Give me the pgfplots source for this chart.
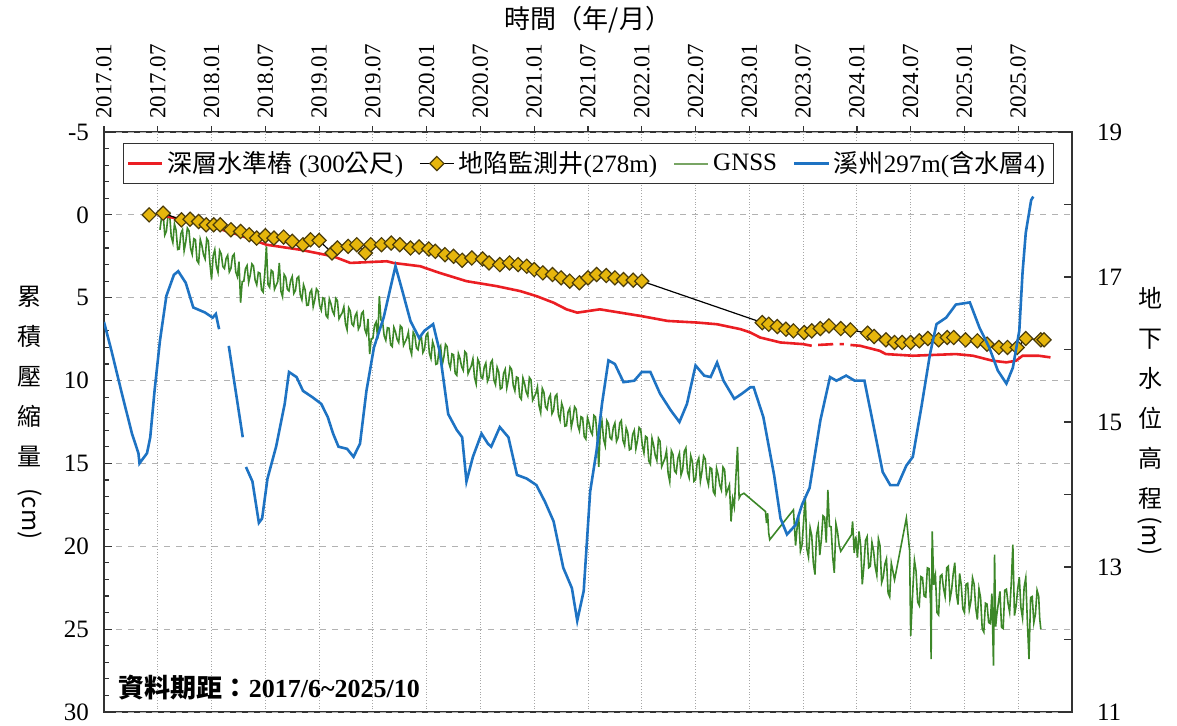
\documentclass[border=0pt]{standalone}
\usepackage{pgfplots}
\pgfplotsset{compat=1.18}
\usepackage{fontspec}
\usepackage{graphicx}
\setmainfont{Liberation Serif}
\newfontfamily\cjk{Noto Sans CJK TC}

\definecolor{levelred}{RGB}{235,30,35}
\definecolor{wellgold}{RGB}{230,182,12}
\definecolor{welledge}{RGB}{75,60,10}
\definecolor{gnssgreen}{RGB}{60,135,40}
\definecolor{gnsslegend}{RGB}{120,165,100}
\definecolor{wellblue}{RGB}{30,115,195}
\definecolor{framegray}{RGB}{50,50,50}

\newcommand\tk{\fontsize{12.5}{14}\selectfont}

\begin{document}
\begin{tikzpicture}

% frame, top date axis and vertical grid
\begin{axis}[
    name=frame, at={(0,0)}, anchor=south west,
    width=484pt, height=290pt, scale only axis,
    xmin=2017, xmax=2026, ymin=0, ymax=1,
    xtick={2017,2017.5,2018,2018.5,2019,2019.5,2020,2020.5,2021,2021.5,2022,2022.5,2023,2023.5,2024,2024.5,2025,2025.5},
    xticklabels={2017.01,2017.07,2018.01,2018.07,2019.01,2019.07,2020.01,2020.07,2021.01,2021.07,2022.01,2022.07,2023.01,2023.07,2024.01,2024.07,2025.01,2025.07},
    xtick pos=right, xticklabel pos=right,
    ytick=\empty,
    tick align=outside, major tick length=3pt,
    xticklabel style={rotate=90, anchor=west, font=\fontsize{11.5}{12}\selectfont},
    xmajorgrids, x grid style={densely dotted, gray!70, line width=0.5pt},
    axis line style={line width=1pt, framegray},
    xtick style={framegray, line width=0.6pt},
]
\end{axis}

% left axis: compression (cm)
\begin{axis}[
    at={(0,0)}, anchor=south west,
    width=484pt, height=290pt, scale only axis,
    xmin=2017, xmax=2026, ymin=-5, ymax=30, y dir=reverse,
    hide x axis, axis y line*=left,
    ytick={-5,0,5,10,15,20,25,30}, minor y tick num=4,
    tick align=inside, major tick length=4pt, minor tick length=2.5pt,
    ymajorgrids, y grid style={dashed, gray!60, line width=0.5pt},
    axis line style={line width=1pt, framegray},
    ytick style={framegray, line width=0.6pt},
    yticklabel style={font=\tk, xshift=-4pt},
    /pgf/number format/assume math mode=true,
    unbounded coords=jump,
]
% GNSS
\addplot[gnssgreen, line width=0.8pt] coordinates {
(2017.52,0.90) (2017.535,0.17) (2017.55,-0.06) (2017.565,1.22) (2017.58,0.99) (2017.595,0.06) (2017.61,-0.07) (2017.625,1.30)
(2017.64,1.67) (2017.655,0.55) (2017.67,0.92) (2017.685,2.09) (2017.70,2.06) (2017.715,1.13) (2017.73,0.90) (2017.745,2.17)
(2017.76,1.64) (2017.775,0.80) (2017.79,0.96) (2017.805,2.02) (2017.82,2.38) (2017.835,1.44) (2017.85,1.50) (2017.865,2.76)
(2017.88,2.92) (2017.895,1.48) (2017.91,1.84) (2017.925,2.40) (2017.94,2.66) (2017.955,1.42) (2017.97,1.58) (2017.985,2.94)
(2018.00,3.90) (2018.015,2.46) (2018.03,2.10) (2018.045,3.11) (2018.06,3.47) (2018.075,2.15) (2018.09,2.35) (2018.105,3.12)
(2018.12,3.24) (2018.135,2.64) (2018.15,2.44) (2018.165,3.44) (2018.18,3.24) (2018.195,2.49) (2018.21,2.37) (2018.225,3.45)
(2018.24,3.73) (2018.255,2.82) (2018.27,5.30) (2018.285,4.03) (2018.30,4.00) (2018.315,3.25) (2018.33,3.06) (2018.345,4.07)
(2018.36,3.63) (2018.375,2.96) (2018.39,3.09) (2018.405,3.94) (2018.42,4.22) (2018.435,3.47) (2018.45,3.52) (2018.465,4.53)
(2018.48,4.66) (2018.495,3.50) (2018.51,1.90) (2018.525,4.20) (2018.54,4.37) (2018.555,3.34) (2018.57,3.43) (2018.585,4.49)
(2018.60,4.26) (2018.615,4.03) (2018.63,2.90) (2018.645,4.61) (2018.66,4.94) (2018.675,3.60) (2018.69,3.77) (2018.705,4.50)
(2018.72,4.59) (2018.735,3.96) (2018.75,3.72) (2018.765,4.74) (2018.78,4.56) (2018.795,3.82) (2018.81,3.72) (2018.825,4.82)
(2018.84,5.12) (2018.855,4.22) (2018.87,4.52) (2018.885,5.46) (2018.90,5.44) (2018.915,4.70) (2018.93,4.52) (2018.945,5.54)
(2018.96,5.12) (2018.975,4.46) (2018.99,4.60) (2019.005,5.46) (2019.02,5.75) (2019.035,5.01) (2019.05,5.06) (2019.065,6.08)
(2019.08,6.21) (2019.095,5.07) (2019.11,5.36) (2019.125,5.81) (2019.14,6.02) (2019.155,5.04) (2019.17,5.17) (2019.185,6.27)
(2019.20,6.08) (2019.215,5.90) (2019.23,5.55) (2019.245,6.56) (2019.26,6.93) (2019.275,5.61) (2019.29,5.81) (2019.305,6.58)
(2019.32,6.70) (2019.335,6.10) (2019.35,5.90) (2019.365,6.90) (2019.38,6.70) (2019.395,5.95) (2019.41,5.83) (2019.425,6.91)
(2019.44,7.19) (2019.455,6.28) (2019.47,8.40) (2019.485,7.48) (2019.50,7.44) (2019.515,6.68) (2019.53,6.47) (2019.545,7.47)
(2019.56,4.90) (2019.575,6.34) (2019.59,6.46) (2019.605,7.30) (2019.62,7.57) (2019.635,6.81) (2019.65,6.84) (2019.665,7.84)
(2019.68,7.95) (2019.695,6.79) (2019.71,7.06) (2019.725,7.50) (2019.74,7.70) (2019.755,6.69) (2019.77,6.80) (2019.785,7.87)
(2019.80,7.66) (2019.815,7.45) (2019.83,7.08) (2019.845,8.07) (2019.86,8.42) (2019.875,7.09) (2019.89,7.28) (2019.905,8.03)
(2019.92,8.14) (2019.935,7.53) (2019.95,7.32) (2019.965,8.31) (2019.98,8.10) (2019.995,7.27) (2020.01,7.13) (2020.025,8.35)
(2020.04,8.67) (2020.055,7.65) (2020.07,7.97) (2020.085,9.02) (2020.10,8.98) (2020.115,8.14) (2020.13,7.92) (2020.145,9.06)
(2020.16,8.57) (2020.175,7.81) (2020.19,7.95) (2020.205,8.91) (2020.22,9.23) (2020.235,8.39) (2020.25,8.44) (2020.265,9.56)
(2020.28,9.68) (2020.295,8.37) (2020.31,8.67) (2020.325,9.16) (2020.34,9.38) (2020.355,8.25) (2020.37,8.37) (2020.385,9.58)
(2020.40,9.34) (2020.415,9.11) (2020.43,8.69) (2020.445,9.81) (2020.46,10.20) (2020.475,8.71) (2020.49,8.93) (2020.505,9.77)
(2020.52,9.88) (2020.535,9.19) (2020.55,8.94) (2020.565,10.05) (2020.58,9.80) (2020.595,8.93) (2020.61,8.77) (2020.625,9.96)
(2020.64,10.25) (2020.655,9.20) (2020.67,9.49) (2020.685,10.51) (2020.70,10.44) (2020.715,9.57) (2020.73,9.32) (2020.745,10.44)
(2020.76,9.93) (2020.775,9.18) (2020.79,9.33) (2020.805,10.29) (2020.82,10.62) (2020.835,9.78) (2020.85,9.84) (2020.865,10.98)
(2020.88,11.13) (2020.895,9.84) (2020.91,10.17) (2020.925,10.68) (2020.94,10.92) (2020.955,9.81) (2020.97,9.96) (2020.985,11.19)
(2021.00,10.98) (2021.015,10.77) (2021.03,10.38) (2021.045,11.52) (2021.06,11.94) (2021.075,10.47) (2021.09,10.71) (2021.105,11.58)
(2021.12,11.73) (2021.135,11.07) (2021.15,10.86) (2021.165,12.00) (2021.18,11.79) (2021.195,10.95) (2021.21,10.83) (2021.225,12.06)
(2021.24,12.39) (2021.255,11.37) (2021.27,11.70) (2021.285,12.75) (2021.30,12.72) (2021.315,11.88) (2021.33,11.67) (2021.345,12.81)
(2021.36,12.33) (2021.375,11.58) (2021.39,11.73) (2021.405,12.69) (2021.42,13.02) (2021.435,12.18) (2021.45,12.24) (2021.465,13.38)
(2021.48,13.53) (2021.495,12.24) (2021.51,12.57) (2021.525,13.05) (2021.54,13.25) (2021.555,12.10) (2021.57,12.20) (2021.585,13.39)
(2021.60,15.20) (2021.615,12.89) (2021.63,12.45) (2021.645,13.55) (2021.66,13.93) (2021.675,12.42) (2021.69,12.61) (2021.705,13.44)
(2021.72,13.55) (2021.735,12.83) (2021.75,12.56) (2021.765,13.67) (2021.78,13.43) (2021.795,12.56) (2021.81,12.41) (2021.825,13.61)
(2021.84,13.91) (2021.855,12.86) (2021.87,13.16) (2021.885,14.18) (2021.90,14.12) (2021.915,13.25) (2021.93,13.01) (2021.945,14.12)
(2021.96,13.61) (2021.975,12.83) (2021.99,12.95) (2022.005,13.92) (2022.02,14.37) (2022.035,13.36) (2022.05,13.44) (2022.065,14.85)
(2022.08,15.04) (2022.095,13.48) (2022.11,13.89) (2022.125,14.52) (2022.14,14.82) (2022.155,13.48) (2022.17,13.67) (2022.185,15.19)
(2022.20,14.94) (2022.215,14.70) (2022.23,14.23) (2022.245,15.61) (2022.26,16.10) (2022.275,14.23) (2022.29,14.46) (2022.305,15.46)
(2022.32,15.58) (2022.335,14.70) (2022.35,14.38) (2022.365,15.70) (2022.38,15.38) (2022.395,14.28) (2022.41,14.07) (2022.425,15.51)
(2022.44,15.85) (2022.455,14.53) (2022.47,14.87) (2022.485,16.08) (2022.50,15.98) (2022.515,14.94) (2022.53,14.68) (2022.545,16.07)
(2022.56,15.47) (2022.575,14.55) (2022.59,14.73) (2022.605,15.89) (2022.62,16.29) (2022.635,15.25) (2022.65,15.32) (2022.665,16.70)
(2022.68,16.88) (2022.695,15.29) (2022.71,15.69) (2022.725,16.31) (2022.74,16.60) (2022.755,15.22) (2022.77,15.38) (2022.785,16.85)
(2022.80,16.57) (2022.815,16.29) (2022.83,18.50) (2022.845,17.14) (2022.86,17.62) (2022.875,15.79) (2022.89,14.00) (2022.905,17.09)
(2022.92,16.90) (2022.95,16.80)
(2023.15,17.90) (2023.16,18.60) (2023.17,18.00) (2023.18,19.20) (2023.19,19.60) (2023.41,17.80)
(2023.43,19.95) (2023.445,18.80) (2023.46,18.40) (2023.475,20.28) (2023.49,19.90) (2023.505,18.45) (2023.52,17.00) (2023.535,20.17)
(2023.55,20.65) (2023.565,18.88) (2023.58,19.36) (2023.595,21.01) (2023.61,21.70) (2023.625,19.30) (2023.64,18.79) (2023.655,20.53)
(2023.67,19.57) (2023.685,18.16) (2023.70,18.25) (2023.715,19.78) (2023.73,16.60) (2023.745,18.79) (2023.76,18.82) (2023.775,20.65)
(2023.79,21.60) (2023.805,18.63) (2023.82,19.13) (2023.835,19.94) (2023.85,20.30)
(2023.95,19.30) (2023.96,18.50) (2023.975,20.40) (2023.99,19.40) (2024.005,20.68) (2024.02,19.10) (2024.035,19.95) (2024.05,22.30)
(2024.065,21.20) (2024.08,19.65) (2024.095,19.42) (2024.11,21.29) (2024.125,21.20) (2024.14,19.76) (2024.155,20.27) (2024.17,21.23)
(2024.185,21.74) (2024.20,19.55) (2024.215,19.97) (2024.23,22.19) (2024.245,21.86) (2024.26,21.08) (2024.275,20.75) (2024.29,22.82)
(2024.305,23.05) (2024.32,21.02) (2024.335,21.52) (2024.35,22.02)
(2024.46,18.30) (2024.49,20.25) (2024.50,25.40) (2024.52,22.60) (2024.535,20.85) (2024.55,21.50) (2024.565,23.36) (2024.58,23.57)
(2024.595,21.83) (2024.61,21.89) (2024.625,23.00) (2024.64,23.06) (2024.655,21.30) (2024.67,21.34) (2024.685,23.47) (2024.69,26.80)
(2024.70,19.10) (2024.715,22.33) (2024.73,21.76) (2024.745,24.00) (2024.76,24.14) (2024.775,21.80) (2024.79,21.71) (2024.805,22.52)
(2024.82,23.03) (2024.835,21.29) (2024.85,21.20) (2024.865,23.21) (2024.88,22.67) (2024.895,21.68) (2024.91,20.99) (2024.925,22.85)
(2024.94,23.51) (2024.955,21.64) (2024.97,22.32) (2024.985,23.76) (2025.00,24.00) (2025.015,22.29) (2025.03,22.23) (2025.045,23.82)
(2025.06,23.31) (2025.075,21.90) (2025.09,22.29) (2025.105,23.73) (2025.12,24.42) (2025.135,22.56) (2025.15,23.10) (2025.165,24.96)
(2025.18,25.17) (2025.195,23.43) (2025.21,23.49) (2025.225,24.60) (2025.24,24.66) (2025.255,22.85) (2025.27,27.20) (2025.28,20.50)
(2025.29,24.85) (2025.30,24.16) (2025.315,23.44) (2025.33,22.72) (2025.345,24.89) (2025.36,24.96) (2025.375,22.65) (2025.39,22.59)
(2025.405,23.43) (2025.42,23.97) (2025.435,22.26) (2025.45,19.90) (2025.465,24.18) (2025.48,23.61) (2025.495,22.59) (2025.51,21.87)
(2025.525,23.70) (2025.54,24.33) (2025.555,22.45) (2025.57,21.90) (2025.585,24.56) (2025.60,26.80) (2025.615,23.09) (2025.63,23.03)
(2025.645,24.61) (2025.66,24.09) (2025.675,22.65) (2025.69,23.01) (2025.70,24.38) (2025.71,25.00)
};
% deep benchmark (300 m)
\addplot[levelred, line width=1.3pt] coordinates {
(2017.50,0.0) (2017.75,0.3) (2018.00,0.7) (2018.25,1.2) (2018.51,1.8) (2018.82,2.1) (2019.13,2.5) (2019.29,2.9)
(2019.63,2.8) (2019.69,2.9) (2019.94,3.1) (2020.12,3.5) (2020.37,4.0) (2020.65,4.3) (2020.87,4.6) (2021.02,4.9)
(2021.18,5.3) (2021.30,5.7) (2021.40,5.9) (2021.61,5.7) (2021.80,5.9) (2021.99,6.1) (2022.24,6.4) (2022.52,6.5)
(2022.70,6.6) (2022.92,6.9) (2023.01,7.1) (2023.10,7.4) (2023.29,7.7) (2023.50,7.8) (2023.58,7.9) (2023.60,nan)
(2023.64,7.85) (2023.78,7.8) (2023.80,nan) (2023.84,7.8) (2023.88,7.8) (2023.90,nan)
(2023.94,7.85) (2024.03,7.9) (2024.21,8.2) (2024.27,8.4) (2024.52,8.5) (2024.92,8.4) (2025.08,8.5) (2025.26,8.8)
(2025.39,8.9) (2025.48,8.8) (2025.54,8.5) (2025.69,8.5) (2025.80,8.6)
};
% subsidence monitoring well (278 m)
\addplot[black, line width=0.6pt, mark=square*, mark size=2.5pt,
    mark options={rotate=45, fill=wellgold, draw=welledge, line width=0.6pt}] coordinates {
(2017.42,0.0) (2017.55,-0.1) (2017.72,0.3) (2017.80,0.26) (2017.88,0.4) (2017.95,0.6) (2018.02,0.6) (2018.08,0.6)
(2018.18,0.9) (2018.27,1.0) (2018.35,1.2) (2018.42,1.4) (2018.50,1.26) (2018.58,1.4) (2018.67,1.34) (2018.75,1.6)
(2018.85,1.8) (2018.92,1.5) (2019.00,1.54) (2019.12,2.3) (2019.17,2.0) (2019.27,1.9) (2019.35,1.8) (2019.43,2.3)
(2019.48,1.8) (2019.58,1.8) (2019.67,1.7) (2019.75,1.8) (2019.85,2.0) (2019.93,1.94) (2020.02,2.06) (2020.08,2.2)
(2020.17,2.4) (2020.25,2.5) (2020.33,2.74) (2020.42,2.6) (2020.52,2.66) (2020.58,2.9) (2020.68,3.0) (2020.77,2.9)
(2020.85,3.0) (2020.93,3.1) (2021.00,3.3) (2021.08,3.5) (2021.17,3.6) (2021.25,3.8) (2021.33,4.0) (2021.42,4.1)
(2021.50,3.8) (2021.58,3.6) (2021.67,3.66) (2021.75,3.8) (2021.83,3.9) (2021.92,3.94) (2022.00,4.0)
(2023.12,6.5) (2023.18,6.6) (2023.26,6.74) (2023.34,6.9) (2023.41,7.0) (2023.51,7.1) (2023.58,7.0) (2023.66,6.86)
(2023.74,6.7) (2023.85,6.86) (2023.94,6.94) (2024.10,7.14) (2024.16,7.34) (2024.27,7.54) (2024.35,7.7) (2024.42,7.7)
(2024.50,7.7) (2024.58,7.6) (2024.66,7.46) (2024.76,7.54) (2024.84,7.4) (2024.90,7.4) (2025.01,7.54) (2025.12,7.6)
(2025.21,7.8) (2025.32,8.0) (2025.40,8.0) (2025.49,8.0) (2025.57,7.46) (2025.71,7.54) (2025.74,7.54)
};
\end{axis}

% right axis: groundwater level (m)
\begin{axis}[
    at={(0,0)}, anchor=south west,
    width=484pt, height=290pt, scale only axis,
    xmin=2017, xmax=2026, ymin=11, ymax=19,
    hide x axis, axis y line*=right,
    ytick={11,13,15,17,19}, minor ytick={12,14,16,18},
    tick align=inside, major tick length=4pt, minor tick length=4pt,
    axis line style={line width=1pt, framegray},
    ytick style={framegray, line width=0.6pt},
    minor tick style={framegray, line width=0.6pt},
    yticklabel style={font=\tk, xshift=9pt},
    /pgf/number format/assume math mode=true,
    unbounded coords=jump,
    legend columns=4,
    legend cell align=left,
    legend style={at={(0.5,0.981)}, anchor=north, draw=framegray, fill=white,
        font=\tk, inner sep=2pt,
        /tikz/every even column/.append style={column sep=6pt}},
]
\addlegendimage{levelred, line width=1.3pt}
\addlegendentry{{\cjk 深層水準樁} (300{\cjk 公尺})}
\addlegendimage{black, line width=0.6pt, mark=square*, mark size=2.5pt,
    mark options={rotate=45, fill=wellgold, draw=welledge, line width=0.6pt}}
\addlegendentry{{\cjk 地陷監測井}(278m)}
\addlegendimage{gnsslegend, line width=1pt}
\addlegendentry{GNSS}
\addplot[wellblue, line width=1.3pt] coordinates {
(2017.00,16.38) (2017.07,15.98) (2017.16,15.43) (2017.26,14.84) (2017.32,14.57) (2017.33,14.43) (2017.40,14.57) (2017.43,14.79)
(2017.47,15.43) (2017.52,16.12) (2017.58,16.74) (2017.65,17.03) (2017.69,17.08) (2017.76,16.92) (2017.83,16.58) (2017.94,16.51)
(2018.01,16.44) (2018.04,16.49) (2018.07,16.28) (2018.11,nan)
(2018.16,16.05) (2018.29,14.79) (2018.30,nan)
(2018.32,14.38) (2018.38,14.18) (2018.44,13.61) (2018.47,13.67) (2018.52,14.22) (2018.60,14.66) (2018.68,15.25) (2018.72,15.69)
(2018.79,15.62) (2018.85,15.43) (2018.94,15.34) (2019.02,15.25) (2019.08,15.07) (2019.13,14.84) (2019.18,14.66) (2019.26,14.63)
(2019.32,14.52) (2019.38,14.70) (2019.44,15.43) (2019.51,16.03) (2019.60,16.44) (2019.66,16.83) (2019.71,17.15) (2019.77,16.83)
(2019.85,16.39) (2019.93,16.16) (2019.98,16.26) (2020.06,16.35) (2020.12,15.98) (2020.20,15.11) (2020.28,14.89) (2020.33,14.79)
(2020.37,14.18) (2020.43,14.52) (2020.51,14.84) (2020.57,14.70) (2020.60,14.66) (2020.68,14.93) (2020.76,14.79) (2020.84,14.27)
(2020.93,14.22) (2021.02,14.13) (2021.10,13.90) (2021.18,13.63) (2021.27,12.99) (2021.35,12.71) (2021.40,12.26) (2021.46,12.67)
(2021.52,14.04) (2021.58,14.61) (2021.63,15.25) (2021.69,15.85) (2021.75,15.80) (2021.83,15.55) (2021.93,15.57) (2022.00,15.69)
(2022.08,15.69) (2022.17,15.39) (2022.27,15.16) (2022.35,15.00) (2022.42,15.25) (2022.50,15.78) (2022.58,15.64) (2022.64,15.62)
(2022.70,15.82) (2022.76,15.57) (2022.86,15.32) (2022.93,15.39) (2023.01,15.48) (2023.04,15.48) (2023.13,15.07) (2023.23,14.27)
(2023.29,13.67) (2023.35,13.45) (2023.43,13.58) (2023.49,13.86) (2023.56,14.09) (2023.66,15.02) (2023.75,15.62) (2023.81,15.57)
(2023.90,15.64) (2023.98,15.57) (2024.07,15.57) (2024.15,14.98) (2024.24,14.31) (2024.31,14.13) (2024.38,14.13) (2024.46,14.40)
(2024.52,14.52) (2024.60,15.21) (2024.68,15.94) (2024.74,16.35) (2024.83,16.44) (2024.92,16.62) (2025.05,16.65) (2025.14,16.30)
(2025.23,16.03) (2025.31,15.71) (2025.39,15.53) (2025.45,15.75) (2025.51,16.26) (2025.54,17.06) (2025.57,17.61) (2025.62,18.06)
(2025.64,18.11)
};
\addlegendentry{{\cjk 溪州}297m({\cjk 含水層}4)}
\node[anchor=west, font={\fontsize{13}{14}\selectfont\bfseries}] at (rel axis cs:0.008,0.042)
    {{\cjk 資料期距：}2017/6\textasciitilde 2025/10};
\end{axis}

% titles and axis labels
\node[font={\fontsize{13}{14}\selectfont\cjk}] at ([xshift=242pt,yshift=346pt]frame.south west) {時間（年/月）};
\node[font={\fontsize{12}{20}\selectfont\cjk}, align=center] at ([xshift=-37pt,yshift=168pt]frame.south west)
    {累\\積\\壓\\縮\\量};
\node[font={\fontsize{12}{14}\selectfont\cjk}, rotate=-90] at ([xshift=-37pt,yshift=99pt]frame.south west) {(cm)};
\node[font={\fontsize{12}{20}\selectfont\cjk}, align=center] at ([xshift=523pt,yshift=157pt]frame.south west)
    {地\\下\\水\\位\\高\\程};
\node[font={\fontsize{12}{14}\selectfont\cjk}, rotate=-90] at ([xshift=523pt,yshift=88pt]frame.south west) {(m)};

\pgfresetboundingbox
\path[use as bounding box] ([xshift=-52pt,yshift=-6.5pt]frame.south west) rectangle ([xshift=52.5pt,yshift=66pt]frame.north east);
\end{tikzpicture}
\end{document}
